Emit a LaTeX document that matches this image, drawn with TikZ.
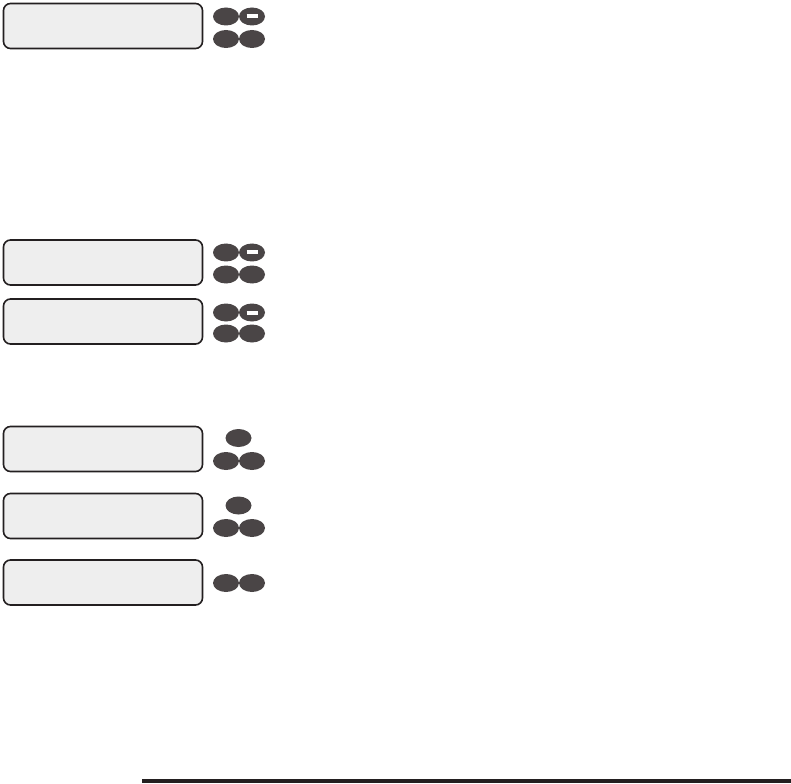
\documentclass[tikz,border=0pt]{standalone}
\usetikzlibrary{shapes.geometric}
\definecolor{boxfill}{HTML}{EEEEEE}
\definecolor{boxline}{HTML}{231F20}
\definecolor{btn}{HTML}{4A4546}
\tikzset{
  lcd/.style={draw=boxline, line width=1.6pt, fill=boxfill, rounded corners=7pt, minimum width=199pt, minimum height=45pt, inner sep=0pt},
  key/.style={ellipse, fill=btn, minimum width=26pt, minimum height=18pt, inner sep=0pt},
  minusbar/.style={draw=white, line width=4pt},
  rule/.style={draw=boxline, line width=4pt}
}
\newcommand{\minuson}[1]{\draw[minusbar] ([xshift=-5.5pt]#1.center) -- ([xshift=5.5pt]#1.center);}
\begin{document}
\begin{tikzpicture}[x=1pt,y=-1pt]
\useasboundingbox (0,0) rectangle (791,783);
% group 1
\node[lcd] (d1) at (103,26) {};
\node[key] (k1a) at (226,16.5) {};
\node[key] (k1b) at (252,16.5) {};
\minuson{k1b}
\node[key] (k1c) at (226,39) {};
\node[key] (k1d) at (252,39) {};
% group 2
\node[lcd] (d2) at (103,262.5) {};
\node[key] (k2a) at (226,252.5) {};
\node[key] (k2b) at (252,252.5) {};
\minuson{k2b}
\node[key] (k2c) at (226,274.5) {};
\node[key] (k2d) at (252,274.5) {};
% group 3
\node[lcd] (d3) at (103,321.5) {};
\node[key] (k3a) at (226,312.5) {};
\node[key] (k3b) at (252,312.5) {};
\minuson{k3b}
\node[key] (k3c) at (226,333.5) {};
\node[key] (k3d) at (252,333.5) {};
% group 4
\node[lcd] (d4) at (103,449) {};
\node[key] (k4a) at (238.5,438) {};
\node[key] (k4c) at (226,461) {};
\node[key] (k4d) at (252,461) {};
% group 5
\node[lcd] (d5) at (103,516) {};
\node[key] (k5a) at (238.5,505.5) {};
\node[key] (k5c) at (226,528) {};
\node[key] (k5d) at (252,528) {};
% group 6
\node[lcd] (d6) at (103,582.5) {};
\node[key] (k6c) at (226,583) {};
\node[key] (k6d) at (252,583) {};
% bottom rule
\coordinate (r1) at (142,781);
\coordinate (r2) at (791,781);
\draw[rule] (r1) -- (r2);
\end{tikzpicture}
\end{document}
